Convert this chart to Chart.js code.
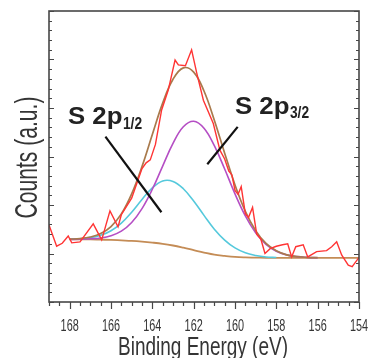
<!DOCTYPE html>
<html>
<head>
<meta charset="utf-8">
<script src="https://cdn.jsdelivr.net/npm/chart.js@4.4.1/dist/chart.umd.min.js"></script>
<style>
  body { margin: 0; background: #fff; }
  #wrap { width: 372px; height: 358px; position: relative; }
</style>
</head>
<body>
<div id="wrap"><canvas id="xpsChart"></canvas></div>
<script>
// fitted curves (binding energy grid, eV)
const fitEnergy = [168, 167.5, 167, 166.5, 166, 165.5, 165, 164.5, 164, 163.5, 163, 162.5, 162,
  161.5, 161, 160.5, 160, 159.5, 159, 158.5, 158, 157.5, 157, 156.5, 156, 155.5, 155, 154.5, 154];
const background = [1.29, 1.29, 1.29, 1.285, 1.28, 1.27, 1.26, 1.245, 1.225, 1.2, 1.165, 1.12, 1.07,
  1.02, 0.975, 0.95, 0.93, 0.92, 0.915, 0.91, 0.91, 0.91, 0.91, 0.91, 0.91, 0.91, 0.91, 0.91, 0.91];
const envelope = [1.296, 1.308, 1.34, 1.41, 1.556, 1.817, 2.231, 2.794, 3.453, 4.1, 4.592, 4.827, 4.741,
  4.35, 3.749, 3.069, 2.414, 1.87, 1.472, 1.207, 1.056, 0.972, 0.935, 0.92, 0.913];
const s2p32 = [1.29, 1.294, 1.303, 1.32, 1.366, 1.46, 1.639, 1.925, 2.325, 2.803, 3.27, 3.612, 3.728,
  3.584, 3.223, 2.742, 2.229, 1.776, 1.428, 1.189, 1.048, 0.972, 0.935, 0.92, 0.913];
const s2p12 = [1.295, 1.304, 1.327, 1.375, 1.47, 1.627, 1.852, 2.114, 2.353, 2.497, 2.487, 2.335, 2.083,
  1.786, 1.501, 1.277, 1.115, 1.014, 0.959, 0.928, 0.918];

// measured spectrum
const rawEnergy = [169.0, 168.63, 168.36, 168.07, 167.9, 167.5, 166.86, 166.45, 166.05, 165.66,
  165.5, 165.0, 164.5, 164.3, 164.1, 163.85, 163.55, 163.23, 162.9, 162.74,
  162.4, 162.1, 161.85, 161.53, 161.05, 160.73, 160.5, 160.3, 160.15, 160.0,
  159.85, 159.7, 159.5, 159.35, 159.15, 158.95, 158.75, 158.55, 158.3, 158.0,
  157.7, 157.45, 157.26, 157.06, 156.7, 156.48, 156.05, 155.57, 155.32, 155.08,
  154.84, 154.52, 154.33, 154.07, 154.0];
const rawCounts = [1.59, 1.15, 1.21, 1.36, 1.22, 1.24, 1.61, 1.28, 1.88, 1.55,
  1.8, 2.14, 2.75, 2.87, 2.93, 3.25, 3.96, 4.37, 4.99, 4.89,
  4.87, 5.2, 4.72, 4.16, 3.68, 3.13, 2.95, 2.7, 2.62, 2.3,
  2.22, 2.38, 1.82, 1.74, 1.95, 1.4, 1.3, 1.0, 1.1, 1.15,
  1.18, 1.2, 0.93, 1.14, 1.18, 0.93, 1.04, 1.06, 1.14, 1.24,
  0.97, 0.76, 0.73, 0.88, 0.92];

// annotation pointer lines (data space)
const leader12X = [166.27, 163.56];
const leader12Y = [3.41, 1.85];
const leader32X = [159.87, 161.34];
const leader32Y = [3.61, 2.84];

// axis ticks
const xTickLabels = [168, 166, 164, 162, 160, 158, 156, 154];
const xMin = 154, xMax = 169, xMinorStep = 0.5;
const yMin = 0, yMax = 6, yMinorStep = 0.2;

const toPoints = (xs, ys) => ys.map((v, i) => ({ x: xs[i], y: v }));

function condensedText(ctx, text, x, y, font, sx, align, baseline, angle) {
  ctx.save();
  ctx.translate(x, y);
  if (angle) ctx.rotate(angle);
  ctx.scale(sx, 1);
  ctx.font = font;
  ctx.textAlign = align;
  ctx.textBaseline = baseline;
  ctx.fillText(text, 0, 0);
  ctx.restore();
}

// frame, ticks, axis text and peak labels
const axesPlugin = {
  id: "xpsAxes",
  afterDraw(chart) {
    const { ctx, chartArea: a, scales } = chart;
    const xs = scales.x, ys = scales.y;
    ctx.save();
    ctx.strokeStyle = "#474747";
    ctx.lineWidth = 1.6;
    ctx.strokeRect(a.left, a.top, a.right - a.left, a.bottom - a.top);

    ctx.lineWidth = 1.2;
    ctx.beginPath();
    for (let i = 0; i <= (xMax - xMin) / xMinorStep; i++) {
      const v = xMin + i * xMinorStep;
      const px = Math.round(xs.getPixelForValue(v)) + 0.5;
      const len = v % 2 === 0 ? 7 : 4;
      ctx.moveTo(px, a.bottom);
      ctx.lineTo(px, a.bottom + len);
    }
    for (let i = 0; i <= Math.round((yMax - yMin) / yMinorStep); i++) {
      const v = yMin + i * yMinorStep;
      const py = Math.round(ys.getPixelForValue(v)) + 0.5;
      const len = i % 5 === 0 ? 5 : 3;
      ctx.moveTo(a.left, py);
      ctx.lineTo(a.left + len, py);
      ctx.moveTo(a.right, py);
      ctx.lineTo(a.right - len, py);
    }
    ctx.stroke();

    ctx.fillStyle = "#353535";
    xTickLabels.forEach((t) => {
      condensedText(ctx, String(t), xs.getPixelForValue(t), 330.5,
        "17px 'Liberation Sans', Arial, sans-serif", 0.64, "center", "alphabetic");
    });
    condensedText(ctx, "Binding Energy (eV)", (a.left + a.right) / 2 - 1, 355,
      "25px 'Liberation Sans', Arial, sans-serif", 0.76, "center", "alphabetic");
    condensedText(ctx, "Counts (a.u.)", 36.5, 157.5,
      "31px 'Liberation Sans', Arial, sans-serif", 0.68, "center", "alphabetic", -Math.PI / 2);

    // peak labels
    ctx.fillStyle = "#222";
    const drawPeak = (sub, ex, cy) => {
      const px = xs.getPixelForValue(ex);
      const py = ys.getPixelForValue(cy);
      ctx.font = "bold 23px 'Liberation Sans', Arial, sans-serif";
      const w = ctx.measureText("S 2p").width * 1.12;
      condensedText(ctx, "S 2p", px, py, ctx.font, 1.12, "left", "alphabetic");
      condensedText(ctx, sub, px + w + 0.5, py + 4.5,
        "bold 16px 'Liberation Sans', Arial, sans-serif", 0.86, "left", "alphabetic");
    };
    drawPeak("1/2", 168.08, 3.67);
    drawPeak("3/2", 160.0, 3.88);
    ctx.restore();
  },
};

const line = (data, color, width, extra) => Object.assign({
  data, borderColor: color, borderWidth: width, pointRadius: 0,
  fill: false, tension: 0.4,
}, extra || {});

new Chart(document.getElementById("xpsChart"), {
  type: "line",
  data: {
    datasets: [
      line(toPoints(leader12X, leader12Y), "#111", 2.2, { tension: 0 }),
      line(toPoints(leader32X, leader32Y), "#111", 2.2, { tension: 0 }),
      line(toPoints(rawEnergy, rawCounts), "#ff3434", 1.4, { tension: 0 }),
      line(toPoints(fitEnergy, envelope), "#a97a4c", 1.7),
      line(toPoints(fitEnergy, s2p32), "#b54ec4", 1.6),
      line(toPoints(fitEnergy, s2p12), "#55c9dc", 1.6),
      line(toPoints(fitEnergy, background), "#c48c56", 1.8),
    ],
  },
  options: {
    responsive: true,
    maintainAspectRatio: false,
    animation: false,
    layout: { padding: { left: 49, right: 13, top: 11, bottom: 56 } },
    scales: {
      x: { type: "linear", min: xMin, max: xMax, reverse: true, display: false },
      y: { type: "linear", min: yMin, max: yMax, display: false },
    },
    plugins: { legend: { display: false }, tooltip: { enabled: false } },
  },
  plugins: [axesPlugin],
});
</script>
</body>
</html>
